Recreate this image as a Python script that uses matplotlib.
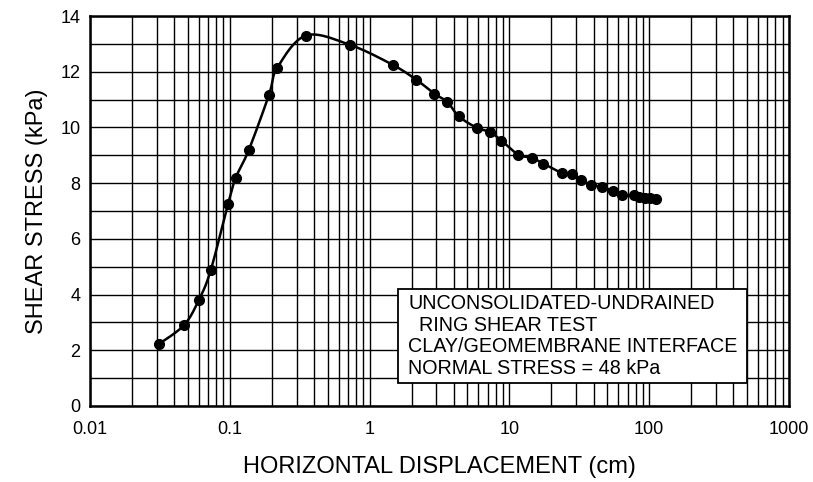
import numpy as np
import matplotlib
matplotlib.use('Agg')
import matplotlib.pyplot as plt
from matplotlib.patches import Rectangle
from matplotlib.ticker import LogLocator, MultipleLocator, FixedLocator, FixedFormatter, NullFormatter

plt.rcParams['font.family'] = ['Liberation Sans', 'DejaVu Sans']

# Data
displacement = [0.031, 0.047, 0.060, 0.073, 0.097, 0.110, 0.137, 0.191, 0.218,
                0.35, 0.72, 1.46, 2.16, 2.91, 3.6, 4.34, 5.83, 7.3, 8.75,
                11.6, 14.5, 17.5, 23.9, 28.2, 32.6, 38.6, 46.3, 55.0, 64.0,
                78.0, 84.5, 93.0, 102.0, 112.0]
shear = [2.22, 2.90, 3.80, 4.87, 7.24, 8.18, 9.20, 11.18, 12.13,
         13.30, 12.97, 12.25, 11.71, 11.21, 10.91, 10.40, 9.99, 9.83, 9.53,
         9.02, 8.91, 8.70, 8.36, 8.32, 8.10, 7.94, 7.86, 7.72, 7.59,
         7.56, 7.50, 7.47, 7.48, 7.42]

xticks = [0.01, 0.1, 1, 10, 100, 1000]
xticklabels = ['0.01', '0.1', '1', '10', '100', '1000']
yticks = [0, 2, 4, 6, 8, 10, 12, 14]

box_text = ('UNCONSOLIDATED-UNDRAINED\n'
            '  RING SHEAR TEST\n'
            'CLAY/GEOMEMBRANE INTERFACE\n'
            'NORMAL STRESS = 48 kPa')


def catmull_rom(px, py, n=12):
    # smooth drawing path through the measured points (log-x space)
    P = np.column_stack([px, py])
    P = np.vstack([P[0], P, P[-1]])
    out = []
    for i in range(1, len(P) - 2):
        p0, p1, p2, p3 = P[i - 1], P[i], P[i + 1], P[i + 2]
        t = np.linspace(0, 1, n, endpoint=False)[:, None]
        seg = 0.5 * ((2 * p1) + (-p0 + p2) * t + (2 * p0 - 5 * p1 + 4 * p2 - p3) * t ** 2
                     + (-p0 + 3 * p1 - 3 * p2 + p3) * t ** 3)
        out.append(seg)
    out.append(P[-2][None, :])
    out = np.vstack(out)
    return out[:, 0], out[:, 1]


fig = plt.figure(figsize=(8.13, 4.82), dpi=100)
ax = fig.add_axes([0.1107, 0.1577, 0.8598, 0.8091])

lx, ly = catmull_rom(np.log10(displacement), shear)
ax.plot(10 ** lx, ly, color='black', lw=1.8, zorder=3)
ax.plot(displacement, shear, 'o', color='black', ms=7, zorder=4)

ax.set_xscale('log')
ax.set_xlim(0.01, 1000)
ax.set_ylim(0, 14)

ax.xaxis.set_major_locator(FixedLocator(xticks))
ax.xaxis.set_major_formatter(FixedFormatter(xticklabels))
ax.xaxis.set_minor_locator(LogLocator(base=10, subs=np.arange(2, 10), numticks=20))
ax.xaxis.set_minor_formatter(NullFormatter())
ax.set_yticks(yticks)
ax.yaxis.set_minor_locator(MultipleLocator(1))

ax.grid(which='both', color='black', lw=1.0)
ax.set_axisbelow(True)
ax.tick_params(which='both', length=0, labelsize=13)
ax.tick_params(axis='x', pad=11)
ax.tick_params(axis='y', pad=7)
for s in ax.spines.values():
    s.set_linewidth(1.8)

ax.set_xlabel('HORIZONTAL DISPLACEMENT (cm)', fontsize=17, labelpad=13)
ax.set_ylabel('SHEAR STRESS (kPa)', fontsize=17, labelpad=9)

# annotation box
ax.add_patch(Rectangle((0.4406, 0.059), 0.4994, 0.241, transform=ax.transAxes,
                       facecolor='white', edgecolor='black', lw=1.3, zorder=5))
ax.text(0.455, 0.180, box_text, transform=ax.transAxes, fontsize=14.2,
        va='center', ha='left', linespacing=1.17, zorder=6)

fig.savefig('out.png', dpi=100)
